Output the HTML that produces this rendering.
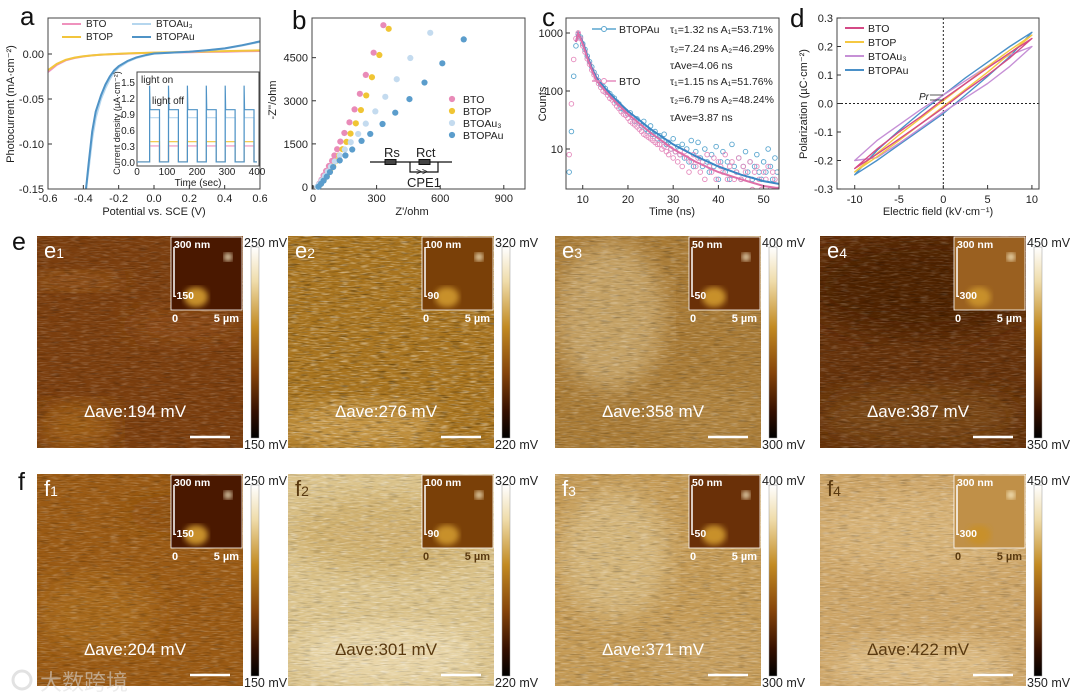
<!DOCTYPE html>
<html><head><meta charset="utf-8">
<style>
html,body{margin:0;padding:0;background:#fff;}
svg{display:block;font-family:"Liberation Sans","Noto Sans CJK SC",sans-serif;}
</style></head>
<body>
<svg id="fig" xmlns="http://www.w3.org/2000/svg" width="1080" height="700" viewBox="0 0 1080 700">
<defs>
  <filter id="nzW" x="0" y="0" width="100%" height="100%"><feTurbulence type="fractalNoise" baseFrequency="0.1 0.8" numOctaves="2" seed="3"/><feColorMatrix type="matrix" values="0 0 0 0 1  0 0 0 0 1  0 0 0 0 1  2.2 0 0 0 -1.05"/></filter>
  <filter id="nzB" x="0" y="0" width="100%" height="100%"><feTurbulence type="fractalNoise" baseFrequency="0.08 0.7" numOctaves="2" seed="8"/><feColorMatrix type="matrix" values="0 0 0 0 0  0 0 0 0 0  0 0 0 0 0  -2.2 0 0 0 1.05"/></filter>
  <filter id="blur12"><feGaussianBlur stdDeviation="12"/></filter>
  <filter id="blur3"><feGaussianBlur stdDeviation="3"/></filter>
  <linearGradient id="cbar" x1="0" y1="0" x2="0" y2="1">
    <stop offset="0" stop-color="#ffffff"/><stop offset="0.18" stop-color="#efdcaa"/>
    <stop offset="0.42" stop-color="#c28a22"/><stop offset="0.66" stop-color="#85440a"/>
    <stop offset="0.86" stop-color="#351000"/><stop offset="1" stop-color="#000"/>
  </linearGradient>
</defs>
<g font-size="26" fill="#111">
  <text x="20" y="25">a</text>
  <text x="292" y="29">b</text>
  <text x="542" y="26">c</text>
  <text x="790" y="27">d</text>
  <text x="12" y="250" font-size="25">e</text>
  <text x="18" y="490" font-size="25">f</text>
</g>
<g id="pa"></g>
<g id="pb"></g>
<g id="pc"></g>
<g id="pd"></g>
<g id="maps"></g>
<g opacity="0.55">
  <circle cx="22" cy="680" r="9" fill="none" stroke="#ccc" stroke-width="3"/>
  <text x="40" y="690" font-size="22" fill="#ddd" font-family="'Liberation Sans','Noto Sans CJK SC',sans-serif">大数跨境</text>
</g>
</svg>
<script>
const NS='http://www.w3.org/2000/svg';
function mk(tag,attrs,parent){const e=document.createElementNS(NS,tag);for(const k in attrs)e.setAttribute(k,attrs[k]);parent.appendChild(e);return e;}
function lin(d0,d1,r0,r1){return v=>r0+(v-d0)/(d1-d0)*(r1-r0);}
function txt(parent,x,y,s,size,anchor,fill){const t=mk('text',{x:x,y:y,'font-size':size,'text-anchor':anchor||'start',fill:fill||'#222'},parent);t.textContent=s;return t;}

/* ---------------- Panel a data ---------------- */
const aTicksX=[-0.6,-0.4,-0.2,0.0,0.2,0.4,0.6];
const aTicksY=[0,-0.05,-0.10,-0.15];
const aTickLabY=['0.00','-0.05','-0.10','-0.15'];
const potLow=[-0.6,-0.55,-0.5,-0.45,-0.4,-0.35,-0.3,-0.25,-0.2,-0.1,0,0.1,0.2,0.3,0.4,0.5,0.6];
const btoJ=[-0.020,-0.012,-0.007,-0.0045,-0.0028,-0.0016,-0.0008,-0.0003,0,0.0008,0.0013,0.0017,0.002,0.0023,0.0026,0.003,0.0033];
const btopJ=[-0.018,-0.011,-0.0065,-0.004,-0.0025,-0.0015,-0.0007,-0.0002,0.0003,0.001,0.0015,0.002,0.0024,0.0028,0.0032,0.0036,0.004];
const potHigh=[-0.385,-0.37,-0.35,-0.33,-0.3,-0.275,-0.25,-0.225,-0.2,-0.15,-0.1,-0.05,0,0.1,0.2,0.3,0.4,0.5,0.6];
const btoau3J=[-0.15,-0.128,-0.094,-0.071,-0.050,-0.038,-0.028,-0.020,-0.015,-0.0085,-0.0045,-0.0018,0.0004,0.0015,0.0025,0.004,0.006,0.0095,0.0135];
const btopauJ=[-0.15,-0.122,-0.086,-0.064,-0.046,-0.034,-0.025,-0.018,-0.0135,-0.0078,-0.0038,-0.0013,0.0006,0.0016,0.0026,0.0042,0.0062,0.0098,0.014];
const insetOn=[42,105,168,231,294,357];
const insetOnDur=33;
const insetLevels=[0.32,0.40,0.85,1.0];
const insetSpike=[0.34,0.42,1.0,1.45];
const insetTicksX=[0,100,200,300,400];
const insetTicksY=[0,0.3,0.6,0.9,1.2,1.5];
const seriesColorsA=['#ef92bd','#f2c53c','#b5d6ee','#4f93c6'];

(function(){
 const g=document.getElementById('pa');
 const X=lin(-0.6,0.6,48,260),Y=lin(0.04,-0.15,18,189);
 const clip=mk('clipPath',{id:'clipA'},g);mk('rect',{x:48,y:18,width:212,height:171},clip);
 aTicksX.forEach(v=>{const t=mk('line',{x1:X(v),x2:X(v),y1:189,y2:185,stroke:'#333'},g);
   
   
   const l=txt(g,X(v),202,v.toFixed(1),11,'middle');
   
   });
 aTicksY.forEach((v,i)=>{const t=mk('line',{x1:48,x2:52,y1:Y(v),y2:Y(v),stroke:'#333'},g);
   
   
   const l=txt(g,44,Y(v)+4,aTickLabY[i],11,'end');
   
   });
 const series=[[potLow,btoJ],[potLow,btopJ],[potHigh,btoau3J],[potHigh,btopauJ]];
 const names=['BTO','BTOP','BTOAu3','BTOPAu'];
 series.forEach((s,i)=>{const d=s[0].map((x,k)=>(k?'L':'M')+X(x).toFixed(1)+' '+Y(s[1][k]).toFixed(1)).join(' ');
   const p=mk('path',{d:d,fill:'none',stroke:seriesColorsA[i],'stroke-width':2,'clip-path':'url(#clipA)'},g);
   
   });
 const fr=mk('rect',{x:48,y:18,width:212,height:171,fill:'none',stroke:'#444','stroke-width':1},g);
 
 
 const leg=[[62,27,'BTO'],[62,40,'BTOP'],[132,27,'BTOAu₃'],[132,40,'BTOPAu']];
 leg.forEach((L,i)=>{const ln=mk('line',{x1:L[0],x2:L[0]+19,y1:L[1]-3,y2:L[1]-3,stroke:seriesColorsA[i],'stroke-width':2},g);
   
   
   const t=txt(g,L[0]+24,L[1],L[2],10);
   
   });
 const yt=txt(g,0,0,'Photocurrent (mA·cm⁻²)',11,'middle');yt.setAttribute('transform','translate(14,104) rotate(-90)');
 
 
 const xt=txt(g,154,215,'Potential vs. SCE (V)',11,'middle');
 
 
 const ig=mk('g',{},g);
 
 
 mk('rect',{x:137,y:72,width:122,height:94,fill:'#fff',stroke:'#444'},ig);
 const IX=lin(0,400,137,257),IY=lin(0,1.5,163,83);
 insetLevels.forEach((lv,i)=>{let d='M'+IX(0)+' '+IY(0.02);
   insetOn.forEach(t=>{d+=' L'+IX(t)+' '+IY(0.02)+' L'+IX(t)+' '+IY(insetSpike[i])+' L'+IX(t+1.5)+' '+IY(lv)+' L'+IX(t+insetOnDur)+' '+IY(lv)+' L'+IX(t+insetOnDur)+' '+IY(0.02);});
   d+=' L'+IX(400)+' '+IY(0.02);
   const p=mk('path',{d:d,fill:'none',stroke:seriesColorsA[i],'stroke-width':1.2},ig);
   
   });
 insetTicksX.forEach(v=>{const l=txt(ig,IX(v),175,String(v),10,'middle');
   
   });
 insetTicksY.forEach(v=>{const l=txt(ig,135,IY(v)+3,v.toFixed(1),10,'end');
   
   });
 const it=txt(ig,198,186,'Time (sec)',10,'middle');
 
 
 const iy=txt(ig,0,0,'Current density (µA·cm⁻²)',9,'middle');iy.setAttribute('transform','translate(120,123) rotate(-90)');
 
 
 const on=txt(ig,141,83,'light on',10);
 
 
 const off=txt(ig,152,104,'light off',10);
 
 
})();

/* ---------------- Panel b data ---------------- */
const bTicksX=[0,300,600,900];
const bTicksY=[0,1500,3000,4500];
const btoZre=[332,286,249,221,196,172,148,129,114,101,90,75,62,50,40,30,22];
const btoZim=[5630,4673,3900,3242,2700,2250,1880,1580,1315,1096,910,730,560,400,250,120,20];
const btopZre=[357,313,278,251,226,202,177,158,139,123,107,95,80,65,50,35,24];
const btopZim=[5504,4592,3819,3185,2677,2215,1858,1569,1315,1096,900,720,540,380,230,100,20];
const btoau3Zre=[553,459,395,341,294,249,213,178,150,126,103,85,70,56,42,30,20];
const btoau3Zim=[5365,4488,3750,3138,2630,2204,1846,1558,1304,1096,888,710,540,380,230,100,10];
const btopauZre=[711,610,526,455,388,328,270,229,185,153,126,95,80,65,50,38,26];
const btopauZim=[5135,4304,3634,3058,2585,2192,1846,1604,1304,1096,923,692,520,360,220,110,10];
const seriesColorsB=['#e98bb8','#f0c534','#c4dbef','#5b9dcc'];

(function(){
 const g=document.getElementById('pb');
 const X=lin(0,1000,313,525),Y=lin(0,5880,187,18);
 mk('rect',{x:312,y:18,width:213,height:171,fill:'none',stroke:'#444'},g);
 bTicksX.forEach(v=>{const l=txt(g,X(v),202,String(v),11,'middle');
   
   
   mk('line',{x1:X(v),x2:X(v),y1:189,y2:185,stroke:'#333'},g);});
 bTicksY.forEach(v=>{const l=txt(g,308,Y(v)+4,String(v),11,'end');
   
   
   mk('line',{x1:312,x2:316,y1:Y(v),y2:Y(v),stroke:'#333'},g);});
 const S=[[btoZre,btoZim],[btopZre,btopZim],[btoau3Zre,btoau3Zim],[btopauZre,btopauZim]];
 const names=['bto','btop','btoau3','btopau'];
 S.forEach((s,i)=>{s[0].forEach((x,k)=>{const c=mk('circle',{cx:X(x),cy:Y(s[1][k]),r:3.1,fill:seriesColorsB[i]},g);
   
   });});
 const lab=['BTO','BTOP','BTOAu₃','BTOPAu'];
 lab.forEach((s,i)=>{const c=mk('circle',{cx:452,cy:99+12*i,r:3.1,fill:seriesColorsB[i]},g);
   
   
   const t=txt(g,463,103+12*i,s,10.5);
   
   });
 const cg=mk('g',{},g);
 
 
 mk('path',{d:'M370 162 H452 M410 162 V172 H438 V162',fill:'none',stroke:'#111','stroke-width':1.2},cg);
 mk('rect',{x:385,y:159.5,width:11,height:5,fill:'#444',stroke:'#111'},cg);
 mk('rect',{x:419,y:159.5,width:11,height:5,fill:'#444',stroke:'#111'},cg);
 txt(cg,416,175,'>>',10);
 txt(cg,384,157,'Rs',13);txt(cg,416,157,'Rct',13);txt(cg,407,187,'CPE1',13);
 const yt=txt(g,0,0,"-Z''/ohm",11,'middle');yt.setAttribute('transform','translate(276,100) rotate(-90)');
 
 
 const xt=txt(g,412,215,"Z'/ohm",11,'middle');
 
 
})();

/* ---------------- Panel c data ---------------- */
const cTicksX=[10,20,30,40,50];
const cTicksY=[10,100,1000];
const scatterT=[7,7.5,8,8.5,9,9.5,10,10.5,11,11.5,12,12.5,13,13.5,14,14.5,15,15.5,16,16.5,17,17.5,18,18.5,19,19.5,20,20.5,21,21.5,22,22.5,23,23.5,24,24.5,25,25.5,26,26.5,27,27.5,28,28.5,29,29.5,30,30.5,31,31.5,32,32.5,33,33.5,34,34.5,35,35.5,36,36.5,37,37.5,38,38.5,39,39.5,40,40.5,41,41.5,42,42.5,43,43.5,44,44.5,45,45.5,46,46.5,47,47.5,48,48.5,49,49.5,50,50.5,51,51.5,52,52.5,53];
const btopauCounts=[4,20,180,600,950,850,650,520,400,320,260,210,180,150,130,120,110,95,90,80,75,65,60,50,48,45,40,42,35,30,33,28,25,30,22,20,25,18,20,15,17,14,18,12,13,10,15,9,11,8,12,7,10,6,14,5,9,13,7,5,10,6,4,8,5,11,3,6,9,4,6,3,12,5,4,7,3,5,9,4,6,3,5,8,4,3,6,4,10,5,3,7,4];
const btoCounts=[8,60,350,800,1000,800,600,470,360,290,230,190,160,135,115,100,95,85,75,70,62,55,50,44,40,38,34,30,28,26,24,22,20,18,17,16,15,14,13,12,12,10,11,9,8,10,7,9,6,8,5,9,7,4,6,8,5,7,4,6,3,8,5,4,7,3,6,5,4,8,3,5,6,3,4,7,3,5,4,3,6,2,4,5,3,2,4,3,5,2,4,3,2];
const fitT=[8.5,9,10,11,12,13,15,17,20,25,30,35,40,45,50,53.4];
const btopauFit=[700,1000,700,400,250,170,110,75,45,22,12,7.5,5,3.6,2.8,2.5];
const btoFit=[700,1000,650,370,230,155,100,68,40,19,10,6,4,3,2.3,2.1];
const colC=['#5aa6cf','#e58bbd'];

(function(){
 const g=document.getElementById('pc');
 const X=lin(6.3,53.4,566,779);
 const Y=v=>149-(Math.log10(v)-1)*58;
 const clip=mk('clipPath',{id:'clipC'},g);mk('rect',{x:566,y:18,width:213,height:171},clip);
 const pg=mk('g',{'clip-path':'url(#clipC)'},g);
 [[btopauCounts,0],[btoCounts,1]].forEach(s=>{scatterT.forEach((t,k)=>{const c=mk('circle',{cx:X(t),cy:Y(s[0][k]),r:2.3,fill:'none',stroke:colC[s[1]],'stroke-width':0.9},pg);
   
   });});
 [[btopauFit,'#3b86c4','c-fit-btopau'],[btoFit,'#de6fa8','c-fit-bto']].forEach(s=>{
   const d=fitT.map((t,k)=>(k?'L':'M')+X(t).toFixed(1)+' '+Y(s[0][k]).toFixed(1)).join(' ');
   const p=mk('path',{d:d,fill:'none',stroke:s[1],'stroke-width':2},pg);
   
   });
 mk('rect',{x:566,y:18,width:213,height:171,fill:'none',stroke:'#444'},g);
 cTicksX.forEach(v=>{mk('line',{x1:X(v),x2:X(v),y1:189,y2:185,stroke:'#333'},g);
   const l=txt(g,X(v),203,String(v),11,'middle');
   
   });
 cTicksY.forEach(v=>{mk('line',{x1:566,x2:570,y1:Y(v),y2:Y(v),stroke:'#333'},g);
   const l=txt(g,563,Y(v)+4,String(v),11,'end');
   
   });
 const yt=txt(g,0,0,'Counts',11,'middle');yt.setAttribute('transform','translate(546,104) rotate(-90)');
 
 
 const xt=txt(g,672,215,'Time (ns)',11,'middle');
 
 
 const legY=[33,85];const legN=['BTOPAu','BTO'];
 legY.forEach((y,i)=>{mk('line',{x1:592,x2:616,y1:y-4,y2:y-4,stroke:colC[i],'stroke-width':1.5},g);
   mk('circle',{cx:604,cy:y-4,r:2.5,fill:'#fff',stroke:colC[i]},g);
   const t=txt(g,619,y,legN[i],10.5);
   
   });
 const ann=[[33,'τ₁=1.32 ns  A₁=53.71%'],[52,'τ₂=7.24 ns  A₂=46.29%'],[69,'τAve=4.06 ns'],[85,'τ₁=1.15 ns  A₁=51.76%'],[103,'τ₂=6.79 ns  A₂=48.24%'],[121,'τAve=3.87 ns']];
 ann.forEach(a=>{const t=txt(g,670,a[0],a[1],10.5);
   
   });
})();

/* ---------------- Panel d data ---------------- */
const dE=[-10,-7.5,-5,-2.5,0,2.5,5,7.5,10];
const dTicksX=[-10,-5,0,5,10];
const dTicksY=[0.3,0.2,0.1,0.0,-0.1,-0.2,-0.3];
const btoUp=[-0.228,-0.16,-0.10,-0.045,0.015,0.07,0.125,0.178,0.228];
const btoLo=[-0.228,-0.178,-0.125,-0.07,-0.015,0.045,0.10,0.16,0.228];
const btopUp=[-0.24,-0.175,-0.11,-0.05,0.01,0.07,0.13,0.187,0.24];
const btopLo=[-0.24,-0.187,-0.13,-0.07,-0.01,0.05,0.11,0.175,0.24];
const btoau3Up=[-0.2,-0.13,-0.075,-0.02,0.03,0.08,0.13,0.17,0.2];
const btoau3Lo=[-0.2,-0.19,-0.14,-0.085,-0.03,0.02,0.07,0.13,0.2];
const btopauUp=[-0.25,-0.165,-0.095,-0.03,0.03,0.09,0.145,0.20,0.25];
const btopauLo=[-0.25,-0.20,-0.145,-0.09,-0.035,0.03,0.095,0.165,0.25];
const colD=['#d44a86','#f5c842','#c690d6','#4a90c8'];

(function(){
 const g=document.getElementById('pd');
 const X=lin(-12,10.8,837,1039),Y=lin(0.3,-0.3,18,189);
 mk('line',{x1:X(0),x2:X(0),y1:18,y2:189,stroke:'#222','stroke-dasharray':'2 2'},g);
 mk('line',{x1:837,x2:1039,y1:Y(0),y2:Y(0),stroke:'#222','stroke-dasharray':'2 2'},g);
 const loops=[[btopauUp,btopauLo,3,'btopau'],[btoau3Up,btoau3Lo,2,'btoau3'],[btopUp,btopLo,1,'btop'],[btoUp,btoLo,0,'bto']];
 loops.forEach(L=>{let d='';dE.forEach((e,k)=>{d+=(k?'L':'M')+X(e).toFixed(1)+' '+Y(L[1][k]).toFixed(1)+' ';});
   for(let k=dE.length-1;k>=0;k--){d+='L'+X(dE[k]).toFixed(1)+' '+Y(L[0][k]).toFixed(1)+' ';}
   const p=mk('path',{d:d+'Z',fill:'none',stroke:colD[L[2]],'stroke-width':1.4,'stroke-linejoin':'round'},g);
   
   });
 mk('rect',{x:837,y:18,width:202,height:171,fill:'none',stroke:'#444'},g);
 dTicksX.forEach(v=>{mk('line',{x1:X(v),x2:X(v),y1:189,y2:185,stroke:'#333'},g);
   const l=txt(g,X(v),203,String(v),11,'middle');
   
   });
 dTicksY.forEach(v=>{mk('line',{x1:837,x2:841,y1:Y(v),y2:Y(v),stroke:'#333'},g);
   const l=txt(g,833,Y(v)+4,v.toFixed(1),11,'end');
   
   });
 ['BTO','BTOP','BTOAu₃','BTOPAu'].forEach((s,i)=>{mk('line',{x1:845,x2:864,y1:28+14*i,y2:28+14*i,stroke:colD[i],'stroke-width':2},g);
   const t=txt(g,868,32+14*i,s,10.5);
   
   });
 const pr=txt(g,919,100,'Pr',10);pr.setAttribute('font-style','italic');
 
 
 mk('path',{d:'M930 95 H943 M930 100 H944',stroke:'#222','stroke-width':0.8},g);
 const yt=txt(g,0,0,'Polarization (µC·cm⁻²)',11,'middle');yt.setAttribute('transform','translate(807,104) rotate(-90)');
 
 
 const xt=txt(g,938,215,'Electric field (kV·cm⁻¹)',11,'middle');
 
 
})();

/* ---------------- KPFM maps ---------------- */
const mapXs=[37,288,555,820];
const mapYs=[236,474];
const mapW=206,mapH=212;
const mapBase=['#7b3e0e','#a8741f','#a87a35','#66320a','#9a5a14','#dbc38b','#c49a55','#cda567'];
const mapNoise=[0.25,0.55,0.35,0.25,0.3,0.55,0.4,0.4];
const mapDark=[0.3,0.45,0.3,0.35,0.3,0.25,0.3,0.25];
const mapAve=['194','276','358','387','204','301','371','422'];
const mapTop=['250 mV','320 mV','400 mV','450 mV','250 mV','320 mV','400 mV','450 mV'];
const mapBot=['150 mV','220 mV','300 mV','350 mV','150 mV','220 mV','300 mV','350 mV'];
const insetHi=['300 nm','100 nm','50 nm','300 nm','300 nm','100 nm','50 nm','300 nm'];
const insetLo=['-150','-90','-50','-300','-150','-90','-50','-300'];
const insetCol=['#4a1800','#7a4008','#6a3008','#9a6020','#4a1800','#7a4008','#6a3008','#c09048'];
const textDark=[false,false,false,false,false,true,false,true];
const patches=[
 [[40,45,'#9a5a1a',50,10],[40,190,'#a06018',40,25],[150,90,'#8c4c14',60,20]],
 [[70,190,'#c89a48',80,25]],
 [[55,80,'#c8a66a',55,75],[150,180,'#b08440',60,30]],
 [[100,50,'#4e2206',110,50],[100,180,'#7c4812',100,30]],
 [[60,140,'#a86a1c',60,40],[150,40,'#8e5010',60,20]],
 [[100,60,'#cfaf6c',100,40],[100,180,'#ead8ac',90,30]],
 [[60,80,'#d6b87e',55,65],[150,180,'#c8a060',60,30]],
 [[100,60,'#d8b478',100,40],[100,190,'#e0c088',90,25]]
];

(function(){
 const root=document.getElementById('maps');
 for(let r=0;r<2;r++)for(let c=0;c<4;c++){
  const i=r*4+c,x=mapXs[c],y=mapYs[r];
  const g=mk('g',{},root);
  
  
  const cid='mc'+i;const cp=mk('clipPath',{id:cid},g);mk('rect',{x:x,y:y,width:mapW,height:mapH},cp);
  const ig=mk('g',{'clip-path':'url(#'+cid+')'},g);
  mk('rect',{x:x,y:y,width:mapW,height:mapH,fill:mapBase[i]},ig);
  patches[i].forEach(p=>mk('ellipse',{cx:x+p[0],cy:y+p[1],rx:p[3],ry:p[4],fill:p[2],filter:'url(#blur12)',opacity:0.9},ig));
  mk('rect',{x:x,y:y,width:mapW,height:mapH,filter:'url(#nzW)',opacity:mapNoise[i]},ig);
  mk('rect',{x:x,y:y,width:mapW,height:mapH,filter:'url(#nzB)',opacity:mapDark[i]},ig);
  const ix=x+mapW-72,iy=y+1;
  const ins=mk('g',{},ig);
  
  
  mk('rect',{x:ix,y:iy,width:71,height:73,fill:insetCol[i],stroke:'#fff','stroke-width':0.8},ins);
  mk('ellipse',{cx:ix+25,cy:iy+60,rx:12,ry:10,fill:'#c8902a',filter:'url(#blur3)'},ins);
  mk('circle',{cx:ix+57,cy:iy+20,r:4,fill:'#fff5d0',filter:'url(#blur3)'},ins);
  mk('line',{x1:ix+3,x2:ix+3,y1:iy+10,y2:iy+60,stroke:'#fff','stroke-width':1.5},ins);
  txt(ins,ix+3,iy+11,insetHi[i],10.5,'start','#fff').setAttribute('font-weight','bold');
  txt(ins,ix+2,iy+62,insetLo[i],10.5,'start','#fff').setAttribute('font-weight','bold');
  const tc=textDark[i]?'#5a3a10':'#fff';
  txt(ig,ix+1,iy+85,'0',11,'start',tc).setAttribute('font-weight','bold');
  txt(ig,ix+68,iy+85,'5 µm',11,'end',tc).setAttribute('font-weight','bold');
  const lb=txt(ig,x+7,y+22,(r?'f':'e'),22,'start',textDark[i]?'#5a3a10':'#fff');
  const sub=mk('tspan',{'font-size':14},lb);sub.textContent=String(c+1);
  
  
  const av=txt(ig,x+mapW/2-5,y+mapH-31,'Δave:'+mapAve[i]+' mV',17,'middle',tc);
  
  
  const sb=mk('line',{x1:x+mapW-53,x2:x+mapW-13,y1:y+mapH-11,y2:y+mapH-11,stroke:'#fff','stroke-width':2.5},ig);
  
  
  const cb=mk('rect',{x:x+mapW+8,y:y+11,width:8,height:mapH-21,fill:'url(#cbar)',stroke:'#999','stroke-width':0.5},g);
  
  
  const t1=txt(g,x+mapW+1,y+11,mapTop[i],12.5,'start','#222');
  
  
  const t2=txt(g,x+mapW+1,y+mapH+1,mapBot[i],12.5,'start','#222');
  
  
 }
})();
</script>
</body></html>
